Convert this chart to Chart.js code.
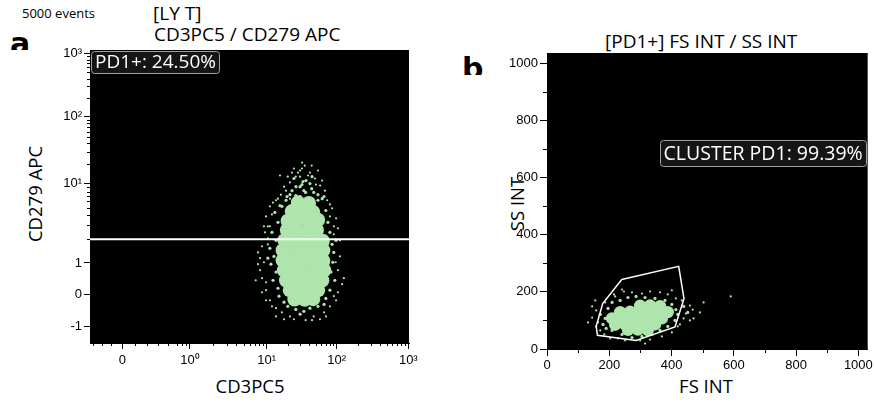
<!DOCTYPE html>
<html>
<head>
<meta charset="utf-8">
<script src="https://cdn.jsdelivr.net/npm/chart.js@4.4.0/dist/chart.umd.min.js"></script>
<style>
  body{margin:0;background:#fff;width:875px;height:405px;position:relative;overflow:hidden;font-family:"Open Sans",sans-serif}
  .t{position:absolute;white-space:nowrap;color:#000;line-height:1}
  .rot{transform:translate(-50%,-50%) rotate(-90deg)}
  .clip{position:absolute;overflow:hidden}
  .clip span{position:absolute;left:0;font:bold 30px "DejaVu Sans",sans-serif;line-height:30px}
  canvas{position:absolute;top:0}
</style>
</head>
<body>
<div class="t" style="left:22px;top:7px;font-size:13px">5000 events</div>
<div class="t" style="left:153px;top:4px;font-size:19px">[LY T]</div>
<div class="t" style="left:154px;top:25px;font-size:19px">CD3PC5 / CD279 APC</div>
<div class="t" style="left:605px;top:32px;font-size:19px">[PD1+] FS INT / SS INT</div>
<div class="t rot" style="left:35px;top:194px;font-size:18.5px">CD279 APC</div>
<div class="t" style="left:250px;top:377px;font-size:18.5px;transform:translateX(-50%)">CD3PC5</div>
<div class="t rot" style="left:517px;top:204px;font-size:18.5px">SS INT</div>
<div class="t" style="left:706px;top:377px;font-size:18.5px;transform:translateX(-50%)">FS INT</div>
<div class="clip" style="left:10px;top:36px;width:26px;height:14px"><span style="top:-7px">a</span></div>
<div class="clip" style="left:462px;top:54px;width:26px;height:21px"><span style="top:0">b</span></div>
<canvas id="ca" width="440" height="405" style="left:0"></canvas>
<canvas id="cb" width="435" height="405" style="left:440px"></canvas>
<script>
// ---- panel a: CD3PC5 (x) vs CD279 APC (y), values in axis units ----
const X_TICKS_A = [0, 1, 10, 100, 1000];
const X_LABELS_A = ['0', '10⁰', '10¹', '10²', '10³'];
const Y_TICKS_A = [-1, 0, 1, 10, 100, 1000];
const Y_LABELS_A = ['-1', '0', '1', '10¹', '10²', '10³'];
const GATE_A = 2;              // PD1+ threshold on CD279
const LABEL_A = 'PD1+: 24.50%';

// dense centre of the population
const CORE_A = [
  [28,5.8],[40,5.7],
  [23,4.5],[32,4.6],[46,4.4],
  [20,3.4],[28,3.5],[39,3.4],[54,3.5],
  [19.5,2.6],[27,2.6],[38,2.5],[52,2.6],
  [18,1.93],[25,1.95],[35,1.9],[49,1.93],[63,1.9],
  [17,1.44],[24,1.45],[33,1.42],[46,1.44],[64,1.44],
  [17,1.08],[24,1.07],[33,1.08],[46,1.1],[64,1.06],
  [17.7,0.77],[24.5,0.78],[34,0.76],[47,0.77],[66,0.77],
  [19,0.45],[26,0.44],[36,0.45],[51,0.46],[62,0.45],
  [21.5,0.14],[30,0.15],[41.5,0.13],[54,0.14],
  [25,-0.15],[35,-0.16],[46,-0.14]
];
// edge of the population
const MID_A = [
  [23,8.2],[30,9.2],[36,7.8],[44,8.7],[54,7.3],[26,7.1],[19.5,6.9],[62,6.5],[33,10.8],[41.5,10.1],
  [13.1,4.35],[14.5,3.26],[11.9,2.44],[13.6,1.93],[11.1,1.53],[12.7,1.21],[11.5,0.96],[13.6,0.71],
  [12.3,0.45],[14.5,0.2],[10.4,1.15],[15.5,5.3],[15,-0.05],
  [70,4.6],[75,3.26],[80,2.44],[86,1.72],[91,1.36],[88,1.02],[83,0.71],[94,0.45],[80,0.14],
  [70,-0.12],[66,-0.31],[78,0.83],[98,1.93],
  [20,-0.37],[26,-0.47],[34,-0.53],[41.5,-0.43],[54,-0.37],[30,-0.62],[23,-0.18],[17.7,-0.24],
  [26.2,9.2],[34,8.2],[47,7.8],[21.5,7.3],[30,6.9],[39,6.5],[54,6.2],[24.5,12],[36.4,11.2],
  [18.9,6.2],[44.4,12.8],[31.9,9.8],[65.8,6.9],[16.5,5.2]
];
// scattered events around it
const SPARSE_A = [
  [35,18.7],[30,15.8],[41.5,14.7],[26,12.8],[49,12],[21.5,10.5],[17.7,9.2],[58,9.5],[68,8.2],
  [16,7.3],[73,6.2],[13.6,6.2],[11.1,5.2],[86,4.9],[9.8,3.87],[98,3.66],[9.2,2.9],[10.4,2.05],
  [8.7,1.62],[104,2.74],[111,1.21],[9.2,1.02],[8.2,0.77],[9.8,0.39],[8.7,0.07],[104,0.77],
  [119,0.33],[98,-0.18],[11.1,-0.18],[13.6,-0.43],[16.5,-0.56],[24.5,-0.78],[36,-0.81],
  [47,-0.69],[66,-0.56],[80,-0.37],[7.7,1.36],[20,12.8],[32,20.7],[54,15.8],[10.4,2.9],
  [91,2.3],[9.8,-0.18],[12.3,5.8],[44,18.7],[24.5,16.9],
  [15.5,13.3],[28,14.7],[39,13.3],[61.6,11.2],[18.9,8.2],[14.5,6.5],[11.9,4.1],[80,3.87],
  [10.4,1.72],[97,1.02],[8.7,0.52],[104,0.07],[11.9,-0.37],[21.5,-0.69],[57.7,-0.78],
  [91,-0.05],[29.9,12.8],[50.6,9.8],[21.5,6.5],[80,5.5],[9.5,2.44],[111,1.93],[7.7,0.96],
  [9.8,0.14],[7.2,0.45],[126,0.52],[17.7,-0.78],[44.4,-0.81],[70.3,-0.69],[31.9,16.9],
  [23,14.7],[11.1,2.9],[91.4,2.9],[8.2,1.15],[13.6,-0.69]
];

// ---- panel b: FS INT (x) vs SS INT (y) ----
const TICKS_B = [0, 200, 400, 600, 800, 1000];
const MINOR_B = [100, 300, 500, 700, 900];
const LABEL_B = 'CLUSTER PD1: 99.39%';
const GATE_B = [[240,243],[423,289],[440,176],[411,77],[286,30],[162,48],[158,79],[179,159]];
const CORE_B = [
  [299,151],[331,152],[363,150],
  [235,129],[267,130],[299,129],[331,128],[363,130],[388,129],
  [209,107],[241,108],[273,107],[305,106],[337,108],[369,107],
  [219,85],[251,86],[283,85],[315,84],[347,86],
  [260,67],[292,68],[324,66]
];
const MID_B = [
  [187,107],[180,86],[196,142],[209,163],[235,170],[260,180],[286,184],[315,180],[347,177],
  [379,170],[401,156],[414,138],[420,121],[411,100],[388,79],[363,65],[337,51],[305,44],
  [273,40],[241,51],[209,65],[190,72],[439,149],[452,128],[171,121]
];
const SPARSE_B = [
  [145,110],[164,93],[158,135],[459,152],[468,138],[446,124],[503,163],[590,184],[433,170],
  [471,107],[171,65],[203,37],[251,30],[331,33],[369,44],[420,79],[215,191],[247,201],
  [331,201],[388,191],[132,93],
  [187,163],[219,184],[273,198],[305,194],[363,198],[414,177],[439,107],[427,86],[401,58],
  [299,30],[228,37],[184,51],[158,79],[145,149],[459,100],[491,128],[315,19],[155,170],
  [241,208],[401,205]
];

// logicle-like display transform: linear up to 1, then per-decade log steps
const XA_DEC = [0, 0.967, 2.063, 3.063, 4.086];
const YA_DEC = [0, 1, 3.5, 5.625, 7.62];
function logicle(dec, v){
  if (v <= 1) return v * dec[1];
  const l = Math.log10(v), i = Math.min(Math.floor(l), 2);
  return dec[i + 1] + (l - i) * (dec[i + 2] - dec[i + 1]);
}
const fx = v => logicle(XA_DEC, v), fy = v => logicle(YA_DEC, v);
const XA_MIN = -0.461, XA_MAX = 4.096, YA_MIN = -1.53, YA_MAX = 7.73;

const LOG_STEPS = [2,3,4,5,6,7,8,9];
const LOG_MINOR = [1,10,100].flatMap(d => LOG_STEPS.map(k => k * d));
const X_MINOR_LOW = [-0.43,-0.3,-0.17,0.19,0.36,0.53,0.68,0.81,0.88,0.94];

const GREEN = '#ade5ad';
const tickFont = {family: '"Liberation Sans", Arial, sans-serif', size: 13};

// black plot area
const plotBg = {
  id: 'plotBg',
  beforeDatasetsDraw(chart){
    const a = chart.chartArea, ctx = chart.ctx;
    ctx.save(); ctx.fillStyle = '#000';
    ctx.fillRect(a.left, a.top, a.right - a.left, a.bottom - a.top);
    ctx.restore();
  }
};

// short unlabeled ticks
const minorTicks = {
  id: 'minorTicks',
  afterDraw(chart, args, o){
    const a = chart.chartArea, ctx = chart.ctx;
    ctx.save(); ctx.strokeStyle = '#000'; ctx.lineWidth = 1;
    (o.x || []).forEach(v => {
      const p = Math.round(chart.scales.x.getPixelForValue(v)) + 0.5;
      ctx.beginPath(); ctx.moveTo(p, a.bottom); ctx.lineTo(p, a.bottom + o.len); ctx.stroke();
    });
    (o.y || []).forEach(v => {
      const p = Math.round(chart.scales.y.getPixelForValue(v)) + 0.5;
      ctx.beginPath(); ctx.moveTo(a.left, p); ctx.lineTo(a.left - o.len, p); ctx.stroke();
    });
    ctx.restore();
  }
};

// gate statistic box
const boxLabel = {
  id: 'boxLabel',
  afterDatasetsDraw(chart, args, o){
    const a = chart.chartArea, ctx = chart.ctx;
    ctx.save();
    ctx.font = o.size + 'px "Open Sans", sans-serif';
    const w = ctx.measureText(o.text).width + 7, h = o.h;
    const x = o.right ? a.right - o.dx - w : a.left + o.dx;
    const y = a.top + o.dy;
    ctx.beginPath(); ctx.roundRect(Math.round(x) + 0.5, Math.round(y) + 0.5, Math.round(w), h, 3);
    ctx.fillStyle = '#151515'; ctx.fill();
    ctx.strokeStyle = '#a0a0a0'; ctx.lineWidth = 1; ctx.stroke();
    ctx.fillStyle = '#fff'; ctx.textBaseline = 'middle';
    ctx.fillText(o.text, x + 4, y + h / 2 + 1);
    ctx.restore();
  }
};

function pts(list, r, mx, my){
  return {data: list.map(([x, y]) => ({x: mx(x), y: my(y)})), pointRadius: r,
    backgroundColor: GREEN, borderColor: GREEN, pointBorderWidth: 0, borderWidth: 0};
}
function axis(min, max, values, labels, fwd, fit, tickLen, pad){
  return {
    type: 'linear', min: min, max: max,
    afterBuildTicks: s => { s.ticks = values.map(v => ({value: fwd(v)})); },
    afterFit: fit,
    ticks: {callback: (v, i) => labels[i], color: '#000', font: tickFont, autoSkip: false, maxRotation: 0, padding: pad},
    grid: {display: true, drawOnChartArea: false, drawTicks: true, tickLength: tickLen, color: '#000'},
    border: {display: true, color: '#000'}
  };
}
const baseOpts = {responsive: false, animation: false, events: []};
const id = v => v;

new Chart(document.getElementById('ca'), {
  type: 'scatter',
  data: {datasets: [
    {data: [{x: XA_MIN, y: fy(GATE_A)}, {x: XA_MAX, y: fy(GATE_A)}], showLine: true,
     borderColor: '#fff', borderWidth: 2, pointRadius: 0},
    pts(CORE_A, 7.2, fx, fy), pts(MID_A, 1.6, fx, fy), pts(SPARSE_A, 1.1, fx, fy)
  ]},
  options: Object.assign({}, baseOpts, {
    layout: {padding: {left: 0, top: 50, right: 31, bottom: 0}},
    plugins: {legend: {display: false}, tooltip: {enabled: false},
      minorTicks: {x: X_MINOR_LOW.concat(LOG_MINOR).map(fx), y: LOG_MINOR.map(fy), len: 3},
      boxLabel: {text: LABEL_A, size: 19, dx: 1, dy: 1, h: 22, right: false}},
    scales: {
      x: axis(XA_MIN, XA_MAX, X_TICKS_A, X_LABELS_A, fx, s => { s.height = 62; }, 6, 4),
      y: axis(YA_MIN, YA_MAX, Y_TICKS_A, Y_LABELS_A, fy, s => { s.width = 90; }, 6, 2)
    }
  }),
  plugins: [plotBg, minorTicks, boxLabel]
});

const gatePoly = GATE_B.concat([GATE_B[0]]).map(([x, y]) => ({x: x, y: y}));
new Chart(document.getElementById('cb'), {
  type: 'scatter',
  data: {datasets: [
    {data: gatePoly, showLine: true, borderColor: '#fff', borderWidth: 1.5, pointRadius: 0, tension: 0},
    pts(CORE_B, 6.2, id, id), pts(MID_B, 1.6, id, id), pts(SPARSE_B, 1.1, id, id)
  ]},
  options: Object.assign({}, baseOpts, {
    layout: {padding: {left: 0, top: 53, right: 7, bottom: 0}},
    plugins: {legend: {display: false}, tooltip: {enabled: false},
      minorTicks: {x: MINOR_B, y: MINOR_B, len: 4},
      boxLabel: {text: LABEL_B, size: 19.5, dx: 2, dy: 87, h: 26, right: true}},
    scales: {
      x: axis(0, 1030, TICKS_B, TICKS_B.map(String), id, s => { s.height = 56; }, 7, 2),
      y: axis(0, 1035, TICKS_B, TICKS_B.map(String), id, s => { s.width = 107; }, 7, 2)
    }
  }),
  plugins: [plotBg, minorTicks, boxLabel]
});
</script>
</body>
</html>
